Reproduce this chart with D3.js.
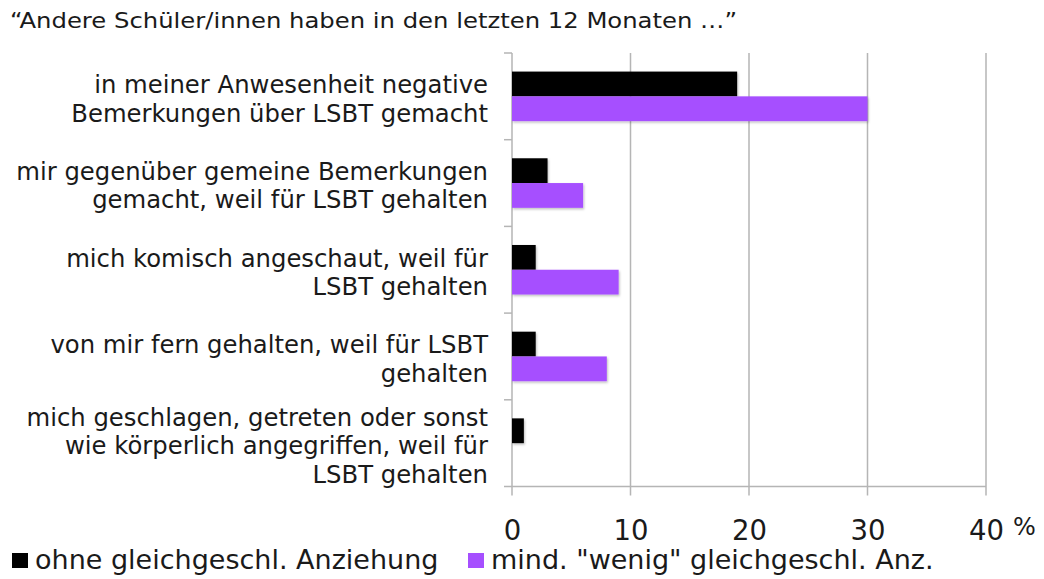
<!DOCTYPE html>
<html>
<head>
<meta charset="utf-8">
<script src="https://cdn.jsdelivr.net/npm/d3@7"></script>
<style>
  body { margin: 0; background: #fff; }
  text { font-family: "DejaVu Sans", Verdana, sans-serif; fill: #1a1a1a; }
</style>
</head>
<body>
<div id="chart-container"></div>
<script>
const title = '“Andere Schüler/innen haben in den letzten 12 Monaten …”'
const categories = [
  'in meiner Anwesenheit negative\nBemerkungen über LSBT gemacht',
  'mir gegenüber gemeine Bemerkungen\ngemacht, weil für LSBT gehalten',
  'mich komisch angeschaut, weil für\nLSBT gehalten',
  'von mir fern gehalten, weil für LSBT\ngehalten',
  'mich geschlagen, getreten oder sonst\nwie körperlich angegriffen, weil für\nLSBT gehalten'
]
const seriesNames = ['ohne gleichgeschl. Anziehung', 'mind. "wenig" gleichgeschl. Anz.']
const ohneValues = [19, 3, 2, 2, 1]
const mindValues = [30, 6, 9, 8, 0]
const xTicks = [0, 10, 20, 30, 40]

function draw () {
  const width = 1044
  const height = 579
  const plotLeft = 512
  const plotRight = 986
  const plotTop = 53
  const plotBottom = 486.5
  const colors = ['#000000', '#a64fff']
  const gridColor = '#b5b5b5'

  const svg = d3.select('#chart-container')
    .append('svg')
    .attr('width', width)
    .attr('height', height)

  const defs = svg.append('defs')
  defs.append('filter')
    .attr('id', 'shadow')
    .attr('x', '-10%').attr('y', '-20%').attr('width', '130%').attr('height', '160%')
    .append('feDropShadow')
    .attr('dx', 1).attr('dy', 1.5).attr('stdDeviation', 1)
    .attr('flood-color', '#000').attr('flood-opacity', 0.25)

  svg.append('text')
    .attr('x', 10)
    .attr('y', 28)
    .attr('font-size', 20.5)
    .attr('textLength', 727)
    .attr('lengthAdjust', 'spacingAndGlyphs')
    .text(title)

  const xScale = d3.scaleLinear()
    .domain([0, 40])
    .range([plotLeft, plotRight])

  const yScale = d3.scaleBand()
    .domain(d3.range(categories.length))
    .range([plotTop, plotBottom])

  const subScale = d3.scaleBand()
    .domain([0, 1])
    .range([0, yScale.bandwidth()])
    .paddingInner(0)
    .paddingOuter(0.75)

  // grid lines (also serve as ticks below the axis)
  svg.append('g')
    .selectAll('line')
    .data(xTicks)
    .enter()
    .append('line')
    .attr('x1', d => xScale(d))
    .attr('x2', d => xScale(d))
    .attr('y1', plotTop)
    .attr('y2', plotBottom + 9)
    .attr('stroke', gridColor)
    .attr('stroke-width', 1.5)

  // bottom axis line
  svg.append('line')
    .attr('x1', plotLeft - 8)
    .attr('x2', xScale(40))
    .attr('y1', plotBottom)
    .attr('y2', plotBottom)
    .attr('stroke', gridColor)
    .attr('stroke-width', 1.5)

  // category boundary ticks
  svg.append('g')
    .selectAll('line')
    .data(d3.range(categories.length))
    .enter()
    .append('line')
    .attr('x1', plotLeft - 8)
    .attr('x2', plotLeft)
    .attr('y1', d => yScale(d))
    .attr('y2', d => yScale(d))
    .attr('stroke', gridColor)
    .attr('stroke-width', 1.5)

  const xAxis = d3.axisBottom(xScale)
    .tickValues(xTicks)
    .tickSize(0)
    .tickPadding(34)

  const axisG = svg.append('g')
    .attr('transform', 'translate(0,' + plotBottom + ')')
    .call(xAxis)
  axisG.select('.domain').remove()
  axisG.selectAll('text')
    .attr('font-size', 27.5)
    .attr('font-family', '"DejaVu Sans", Verdana, sans-serif')
    .attr('fill', '#1a1a1a')

  svg.append('text')
    .attr('x', 1013)
    .attr('y', 535)
    .attr('font-size', 24)
    .text('%')

  const series = [ohneValues, mindValues]
  series.forEach((values, s) => {
    svg.append('g')
      .selectAll('rect')
      .data(values)
      .enter()
      .append('rect')
      .attr('x', xScale(0))
      .attr('y', (d, i) => yScale(i) + subScale(s))
      .attr('width', d => xScale(d) - xScale(0))
      .attr('height', subScale.bandwidth())
      .attr('fill', colors[s])
      .attr('filter', 'url(#shadow)')
  })

  // category labels
  const lineHeight = 28.5
  const labels = svg.append('g')
    .selectAll('text')
    .data(categories)
    .enter()
    .append('text')
    .attr('text-anchor', 'end')
    .attr('font-size', 24.3)
  labels.each(function (d, i) {
    const lines = d.split('\n')
    const center = yScale(i) + yScale.bandwidth() / 2
    d3.select(this).selectAll('tspan')
      .data(lines)
      .enter()
      .append('tspan')
      .attr('x', 488)
      .attr('y', (l, j) => center + (j - (lines.length - 1) / 2) * lineHeight + 11)
      .text(l => l)
  })

  // legend
  const legendX = [12, 468]
  const legend = svg.append('g')
    .selectAll('g')
    .data(seriesNames)
    .enter()
    .append('g')
    .attr('transform', (d, i) => 'translate(' + legendX[i] + ',0)')
  legend.append('rect')
    .attr('x', 0)
    .attr('y', 553)
    .attr('width', 16)
    .attr('height', 15)
    .attr('fill', (d, i) => colors[i])
  legend.append('text')
    .attr('x', 23)
    .attr('y', 569)
    .attr('font-size', 27)
    .text(d => d)
}
draw()
</script>
</body>
</html>
